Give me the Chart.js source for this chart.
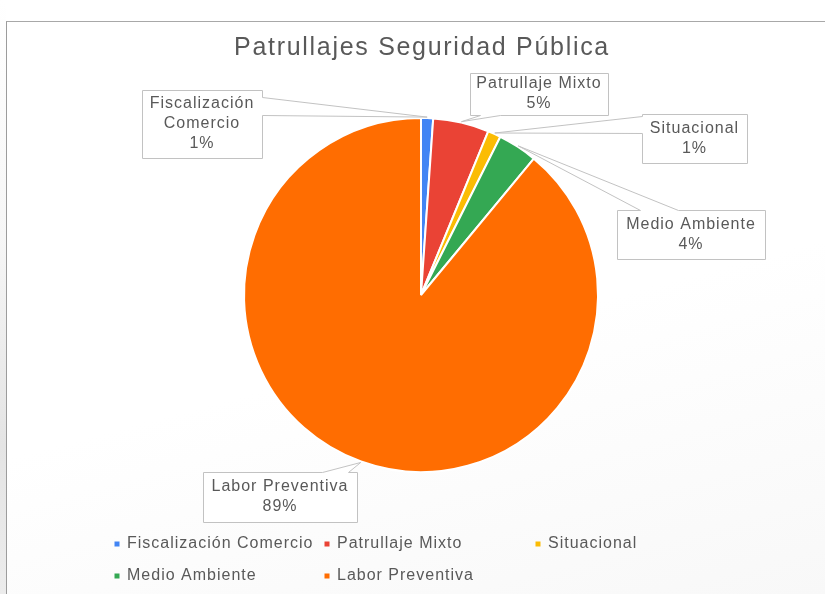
<!DOCTYPE html>
<html>
<head>
<meta charset="utf-8">
<script src="https://cdn.jsdelivr.net/npm/chart.js@4.4.1/dist/chart.umd.min.js"></script>
<style>
  html, body { margin: 0; padding: 0; background: #fff; }
  #wrap { position: relative; width: 825px; height: 594px; overflow: hidden; }
  #side { position: absolute; left: 0; top: 0; width: 6px; height: 594px;
    background: linear-gradient(#fff 0%, #f6f6f6 40%, #e4e4e4 75%, #ececec 100%); }
  #frame { position: absolute; left: 6px; top: 21px; right: -2px; bottom: -2px;
    border-left: 1px solid #9c9c9c; border-top: 1px solid #a8a8a8;
    background: linear-gradient(165deg, #fff 55%, #f8f8f8 100%); }
  canvas { position: absolute; left: 0; top: 0; }
</style>
</head>
<body>
<div id="wrap">
  <div id="side"></div>
  <div id="frame"></div>
  <canvas id="chart" width="825" height="594"></canvas>
</div>
<script>
const chartTitle = "Patrullajes Seguridad Pública";
const categories = ["Fiscalización Comercio", "Patrullaje Mixto", "Situacional", "Medio Ambiente", "Labor Preventiva"];
const shares = [1.1, 5.1, 1.2, 3.6, 89.0];
const sliceColors = ["#4285F4", "#EA4335", "#FBBC04", "#34A853", "#FF6D01"];
const labelLines = [["Fiscalización", "Comercio"], ["Patrullaje Mixto"], ["Situacional"], ["Medio Ambiente"], ["Labor Preventiva"]];

// callout boxes: [left, top, right, bottom], side the pointer leaves from, and where on that side
const callouts = [
  { box: [142, 90, 262, 158], side: "right", base: [97, 115] },
  { box: [470, 73, 608, 115], side: "bottom", base: [480, 500] },
  { box: [642, 114, 747, 163], side: "left", base: [116, 133] },
  { box: [617, 210, 765, 259], side: "top", base: [640, 678] },
  { box: [203, 472, 357, 522], side: "top", base: [322, 348] }
];
const legendSpots = [[117, 544], [327, 544], [538, 544], [117, 576], [327, 576]];

const textGray = "#595959";
const total = shares.reduce((a, b) => a + b, 0);

const calloutPlugin = {
  id: "callouts",
  afterDatasetsDraw(chart) {
    const ctx = chart.ctx;
    const arcs = chart.getDatasetMeta(0).data;
    ctx.save();
    arcs.forEach((arc, i) => {
      const c = callouts[i];
      const p = arc.getProps(["x", "y", "startAngle", "endAngle", "outerRadius"], true);
      const mid = (p.startAngle + p.endAngle) / 2;
      const ax = p.x + Math.cos(mid) * (p.outerRadius + 1);
      const ay = p.y + Math.sin(mid) * (p.outerRadius + 1);
      const [x0, y0, x1, y1] = c.box.map(v => v + 0.5);
      const b0 = c.base[0] + 0.5, b1 = c.base[1] + 0.5;

      const pts = [[x0, y0]];
      if (c.side === "top") pts.push([b0, y0], [ax, ay], [b1, y0]);
      pts.push([x1, y0]);
      if (c.side === "right") pts.push([x1, b0], [ax, ay], [x1, b1]);
      pts.push([x1, y1]);
      if (c.side === "bottom") pts.push([b1, y1], [ax, ay], [b0, y1]);
      pts.push([x0, y1]);
      if (c.side === "left") pts.push([x0, b1], [ax, ay], [x0, b0]);

      ctx.beginPath();
      pts.forEach((pt, k) => k ? ctx.lineTo(pt[0], pt[1]) : ctx.moveTo(pt[0], pt[1]));
      ctx.closePath();
      ctx.fillStyle = "#ffffff";
      ctx.fill();
      ctx.strokeStyle = "#c2c2c2";
      ctx.lineWidth = 1;
      ctx.stroke();

      const lines = labelLines[i].concat([Math.round(shares[i] / total * 100) + "%"]);
      const cx = (c.box[0] + c.box[2]) / 2;
      const cy = (c.box[1] + c.box[3]) / 2;
      ctx.font = "16px 'Liberation Sans', Arial, sans-serif";
      ctx.letterSpacing = "1px";
      ctx.fillStyle = textGray;
      ctx.textAlign = "center";
      ctx.textBaseline = "middle";
      lines.forEach((t, k) => {
        ctx.fillText(t, cx, cy + (k - (lines.length - 1) / 2) * 20);
      });
    });
    ctx.restore();
  },
  afterDraw(chart) {
    const ctx = chart.ctx;
    ctx.save();
    ctx.fillStyle = textGray;
    ctx.font = "25px 'Liberation Sans', Arial, sans-serif";
    ctx.letterSpacing = "1.7px";
    ctx.textAlign = "center";
    ctx.textBaseline = "alphabetic";
    ctx.fillText(chartTitle, 422, 55);

    ctx.font = "16px 'Liberation Sans', Arial, sans-serif";
    ctx.letterSpacing = "1px";
    ctx.textAlign = "left";
    ctx.textBaseline = "middle";
    categories.forEach((name, i) => {
      const [lx, ly] = legendSpots[i];
      ctx.fillStyle = sliceColors[i];
      ctx.fillRect(lx - 2.5, ly - 2.5, 5, 5);
      ctx.fillStyle = textGray;
      ctx.fillText(name, lx + 10, ly);
    });
    ctx.restore();
  }
};

new Chart(document.getElementById("chart"), {
  type: "pie",
  data: {
    labels: categories,
    datasets: [{
      data: shares,
      backgroundColor: sliceColors,
      borderColor: "#ffffff",
      borderWidth: 2,
      radius: 177
    }]
  },
  options: {
    responsive: false,
    animation: false,
    layout: { padding: { left: 67, right: 50, top: 100, bottom: 104 } },
    plugins: {
      legend: { display: false },
      title: { display: false },
      tooltip: { enabled: false }
    }
  },
  plugins: [calloutPlugin]
});
</script>
</body>
</html>
